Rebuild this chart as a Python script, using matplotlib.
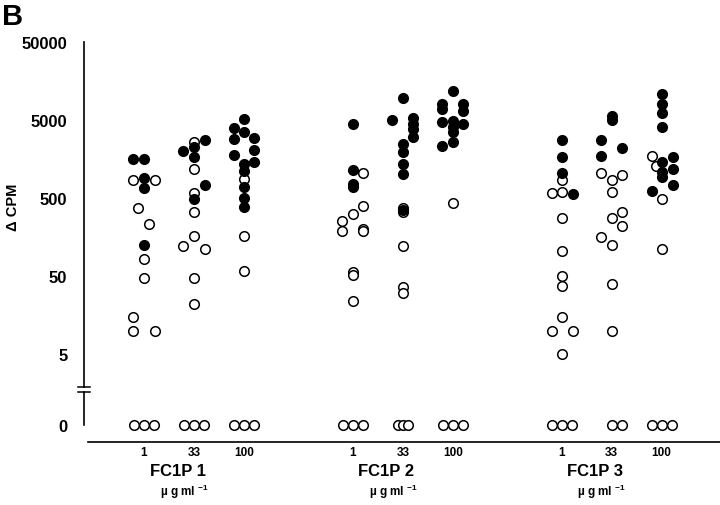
import matplotlib
matplotlib.use('Agg')
import matplotlib.pyplot as plt
import matplotlib.transforms as mtransforms
from matplotlib.lines import Line2D

plt.rcParams['font.family'] = ['Liberation Sans', 'DejaVu Sans']
plt.rcParams['font.weight'] = 'bold'
plt.rcParams['mathtext.fontset'] = 'custom'
plt.rcParams['mathtext.rm'] = 'Liberation Sans:bold'
plt.rcParams['mathtext.it'] = 'Liberation Sans:bold'
plt.rcParams['mathtext.bf'] = 'Liberation Sans:bold'

groups = ['FC1P 1', 'FC1P 2', 'FC1P 3']
doses = ['1', '33', '100']
group_start = [0, 4.18, 8.35]

# (dose index, delta CPM, sideways shift)
fc1p1_filled = [
    (0, 1580, -0.22), (0, 1580, 0), (0, 900, 0), (0, 670, 0), (0, 125, 0),
    (1, 2770, 0.22), (1, 2000, -0.22), (1, 2250, 0), (1, 1680, 0), (1, 734, 0.22), (1, 486, 0),
    (2, 5150, 0), (2, 3940, -0.2), (2, 3510, 0), (2, 2850, -0.2), (2, 2940, 0.2), (2, 2060, 0.2),
    (2, 1780, -0.2), (2, 1450, 0.2), (2, 1360, 0), (2, 1110, 0), (2, 692, 0), (2, 500, 0), (2, 383, 0)]
fc1p1_open = [
    (0, 851, -0.22), (0, 851, 0.22), (0, 372, -0.12), (0, 232, 0.1), (0, 83, 0), (0, 47, 0),
    (0, 15, -0.22), (0, 9.9, -0.22), (0, 9.9, 0.22),
    (1, 2610, 0), (1, 1180, 0), (1, 580, 0), (1, 331, 0), (1, 163, 0), (1, 121, -0.22),
    (1, 111, 0.22), (1, 47, 0), (1, 22, 0),
    (2, 877, 0), (2, 163, 0), (2, 58, 0)]
fc1p1_zero = [(0, -0.2), (0, 0), (0, 0.2), (1, -0.2), (1, 0), (1, 0.2), (2, -0.2), (2, 0), (2, 0.2)]

fc1p2_filled = [
    (0, 4400, 0), (0, 1150, 0), (0, 755, 0), (0, 692, 0),
    (1, 9600, 0), (1, 5000, -0.22), (1, 5300, 0.2), (1, 4445, 0.2), (1, 3835, 0.2), (1, 3030, 0.2),
    (1, 2460, 0), (1, 1945, 0), (1, 1360, 0), (1, 1015, 0), (1, 351, 0),
    (2, 11800, 0), (2, 8020, -0.22), (2, 6920, -0.22), (2, 8020, 0.2), (2, 6520, 0.2),
    (2, 4710, -0.22), (2, 4855, 0), (2, 4065, 0), (2, 3510, 0), (2, 4445, 0.2),
    (2, 2320, -0.22), (2, 2610, 0)]
fc1p2_open = [
    (0, 1050, 0.2), (0, 395, 0.2), (0, 312, 0), (0, 254, -0.22), (0, 189, -0.22), (0, 200, 0.2),
    (0, 189, 0.2), (0, 56, 0), (0, 51, 0), (0, 24, 0),
    (1, 372, 0), (1, 331, 0), (1, 121, 0), (1, 36, 0), (1, 30, 0),
    (2, 431, 0)]
fc1p2_zero = [(0, -0.2), (0, 0), (0, 0.2), (1, -0.1), (1, 0), (1, 0.1), (2, -0.2), (2, 0), (2, 0.2)]

fc1p3_filled = [
    (0, 2770, 0), (0, 1680, 0), (0, 1047, 0), (0, 562, 0.22),
    (1, 5600, 0), (1, 5000, 0), (1, 2770, -0.22), (1, 2190, 0.2), (1, 1727, -0.22),
    (2, 10770, 0), (2, 8020, 0), (2, 6150, 0), (2, 4065, 0), (2, 1450, 0), (2, 1680, 0.22),
    (2, 1180, 0.22), (2, 1077, 0), (2, 930, 0), (2, 615, -0.2), (2, 734, 0.22)]
fc1p3_open = [
    (0, 851, 0), (0, 580, -0.2), (0, 597, 0), (0, 277, 0), (0, 105, 0), (0, 50, 0), (0, 37, 0),
    (0, 15, 0), (0, 9.9, -0.2), (0, 9.9, 0.22), (0, 5, 0),
    (1, 1047, -0.22), (1, 851, 0), (1, 987, 0.2), (1, 597, 0), (1, 331, 0.2), (1, 277, 0),
    (1, 219, 0.2), (1, 158, -0.22), (1, 125, 0), (1, 39.5, 0), (1, 9.9, 0),
    (2, 1727, -0.2), (2, 1285, -0.12), (2, 486, 0), (2, 111, 0)]
fc1p3_zero = [(0, -0.2), (0, 0), (0, 0.2), (1, 0), (1, 0.2), (2, -0.2), (2, 0), (2, 0.2)]

filled_sets = [fc1p1_filled, fc1p2_filled, fc1p3_filled]
open_sets = [fc1p1_open, fc1p2_open, fc1p3_open]
zero_sets = [fc1p1_zero, fc1p2_zero, fc1p3_zero]

W, H = 720, 506
fig = plt.figure(figsize=(W / 100, H / 100), dpi=100)

# pixel layout
ax = fig.add_axes([84 / W, 1 - 388 / H, (W - 84) / W, 345 / H])
axb = fig.add_axes([84 / W, 1 - 443 / H, (W - 84) / W, 50 / H])

xmin, xmax = -1.2, 11.52
ms, mew = 6.9, 1.1

for g in range(3):
    s = group_start[g]
    xo = [s + d + o for d, v, o in open_sets[g]]
    yo = [v for d, v, o in open_sets[g]]
    ax.plot(xo, yo, 'o', ls='none', mfc='white', mec='black', ms=ms, mew=mew, zorder=3)
    xf = [s + d + o for d, v, o in filled_sets[g]]
    yf = [v for d, v, o in filled_sets[g]]
    ax.plot(xf, yf, 'o', ls='none', mfc='black', mec='black', ms=ms, mew=mew, zorder=4)
    xz = [s + d + o for d, o in zero_sets[g]]
    axb.plot(xz, [0] * len(xz), 'o', ls='none', mfc='white', mec='black', ms=ms, mew=mew,
             clip_on=False, zorder=3)

ax.set_yscale('log')
ax.set_ylim(1.89, 50000)
ax.set_xlim(xmin, xmax)
ax.set_yticks([5, 50, 500, 5000, 50000])
ax.set_yticklabels(['5', '50', '500', '5000', '50000'])
ax.minorticks_off()
ax.tick_params(axis='y', length=0, pad=12, labelsize=12)
ax.set_xticks([])
for sp in ['top', 'right', 'bottom']:
    ax.spines[sp].set_visible(False)
ax.spines['left'].set_linewidth(1.2)

axb.set_xlim(xmin, xmax)
axb.set_ylim(-17, 33)
axb.set_yticks([0])
axb.set_yticklabels(['0'])
axb.tick_params(axis='y', length=0, pad=12, labelsize=12)
tick_pos = [s + d for s in group_start for d in range(3)]
axb.set_xticks(tick_pos)
axb.set_xticklabels(doses * 3)
axb.tick_params(axis='x', length=0, pad=3, labelsize=8.5)
for sp in ['top', 'right']:
    axb.spines[sp].set_visible(False)
axb.spines['left'].set_bounds(0, 33)
axb.spines['left'].set_linewidth(1.2)
axb.spines['bottom'].set_bounds(-1.12, xmax)
axb.spines['bottom'].set_linewidth(1.2)

# axis break marks
for yb in [388, 393]:
    fig.add_artist(Line2D([78 / W, 90 / W], [1 - yb / H, 1 - yb / H], color='black', lw=1.1))

trans = mtransforms.blended_transform_factory(axb.transData, fig.transFigure)
for g in range(3):
    axb.text(group_start[g] + 0.67, 1 - 472 / H, groups[g], transform=trans,
             ha='center', va='center', fontsize=12, fontweight='bold')
    axb.text(group_start[g] + 0.8, 1 - 492 / H, r'µ g ml $^{-1}$', transform=trans,
             ha='center', va='center', fontsize=8.5, fontweight='bold')

fig.text(13 / W, 1 - 207 / H, 'Δ CPM', rotation=90, ha='center', va='center',
         fontsize=10.5, fontweight='bold')
fig.text(2 / W, 1 - 3 / H, 'B', ha='left', va='top', fontsize=21, fontweight='bold')

fig.savefig('out.png', dpi=100)
